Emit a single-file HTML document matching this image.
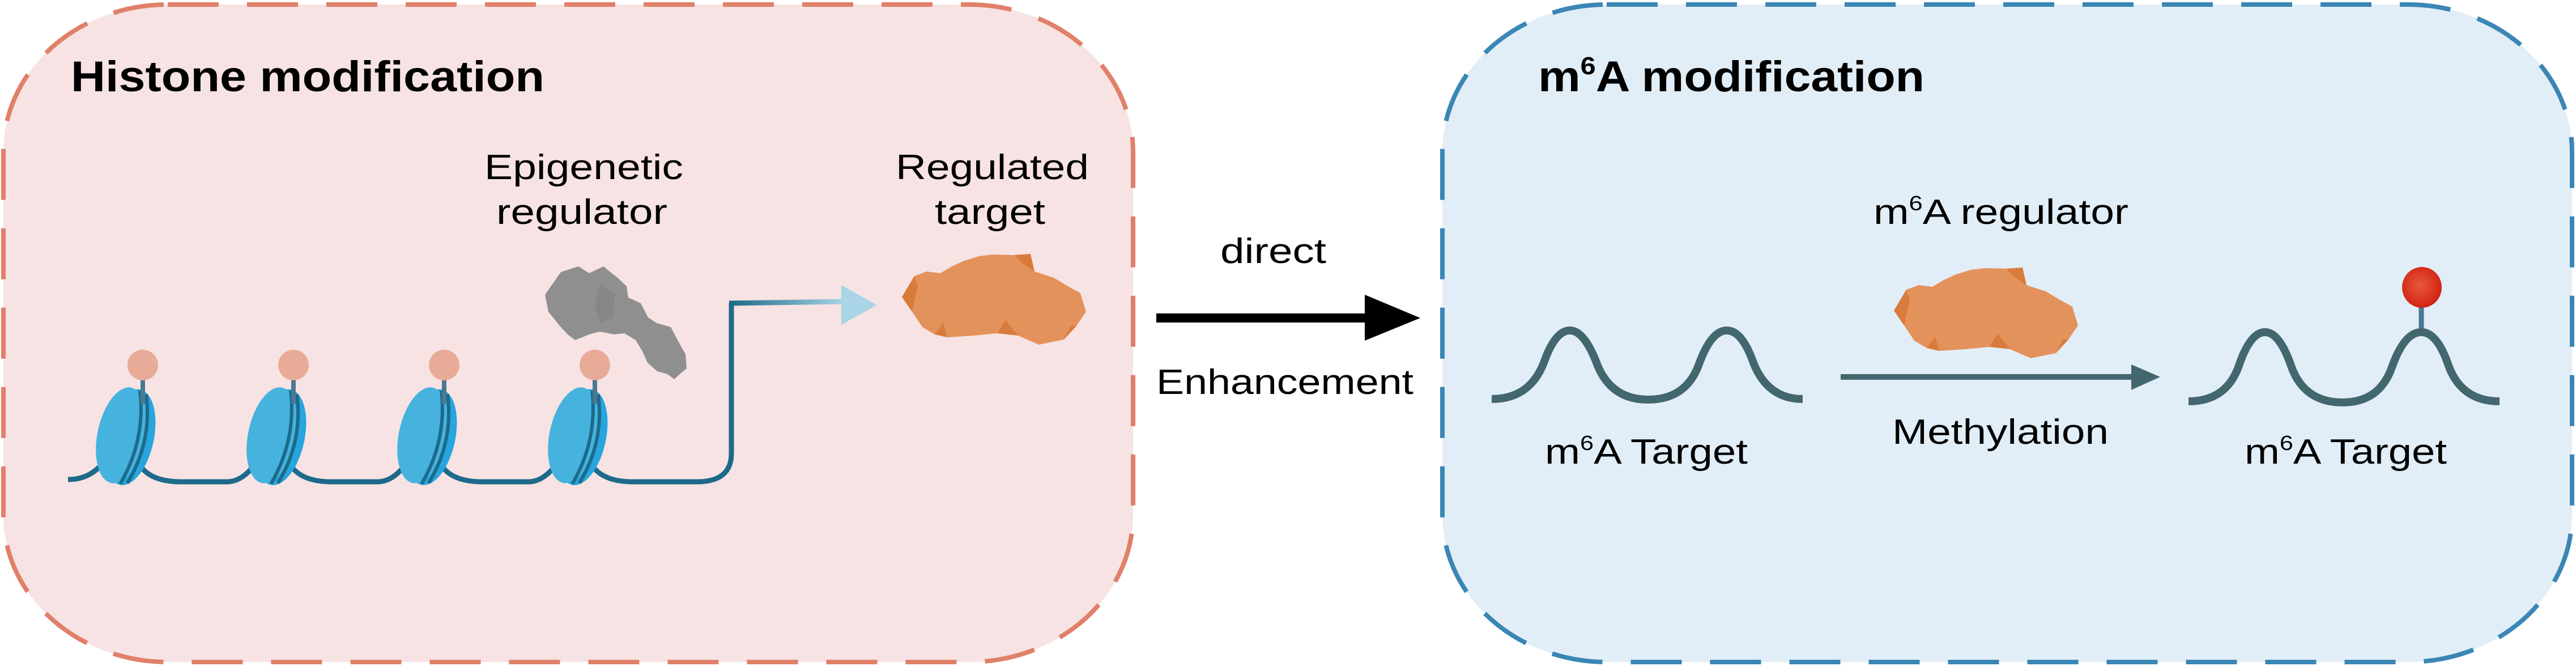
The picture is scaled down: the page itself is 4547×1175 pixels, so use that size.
<!DOCTYPE html>
<html><head><meta charset="utf-8"><style>html,body{margin:0;padding:0;background:#fff}svg{display:block}</style></head>
<body>
<svg width="4547" height="1175" viewBox="0 0 4547 1175" xmlns="http://www.w3.org/2000/svg" font-family="Liberation Sans, sans-serif">
<defs>
<linearGradient id="g1" x1="0" x2="1" y1="0" y2="0"><stop offset="0" stop-color="#1b6a8a"/><stop offset="1" stop-color="#a9d5e6"/></linearGradient>
<radialGradient id="rb" cx="0.45" cy="0.45" r="0.6"><stop offset="0" stop-color="#e8583e"/><stop offset="1" stop-color="#d01f10"/></radialGradient>
<g id="ob">
<path d="M1614 487 L1636 479 L1660 482 L1680 470 L1702 460 L1728 452 L1753 449 L1790 450 L1819 448 L1826 479 L1860 490 L1885 505 L1907 517 L1917 550 L1900 575 L1878 599 L1834 608 L1815 600 L1797 592 L1760 588 L1720 592 L1672 595 L1650 590 L1628 577 L1610 550 L1592 524 Z" fill="#e3925b"/>
<path d="M1592 524 L1614 487 L1620 505 L1610 550 Z M1790 450 L1819 448 L1826 479 L1805 465 Z M1760 588 L1775 565 L1797 592 Z M1650 590 L1665 570 L1672 595 Z M1878 599 L1890 575 L1900 575 Z" fill="#d97b3c"/>
</g>
</defs>
<rect x="6" y="8" width="1994" height="1160" rx="290" ry="260" fill="#f7e3e3" stroke="#e08069" stroke-width="8" stroke-dasharray="90 50"/>
<rect x="2546" y="8" width="1994" height="1160" rx="290" ry="260" fill="#e2eef7" stroke="#3a86b5" stroke-width="8" stroke-dasharray="90 50"/>

<text x="125" y="161" font-size="76" font-weight="bold" textLength="836" lengthAdjust="spacingAndGlyphs">Histone modification</text>
<text x="855" y="316" font-size="62" textLength="351" lengthAdjust="spacingAndGlyphs">Epigenetic</text>
<text x="876" y="395" font-size="62" textLength="302" lengthAdjust="spacingAndGlyphs">regulator</text>
<text x="1581" y="316" font-size="62" textLength="341" lengthAdjust="spacingAndGlyphs">Regulated</text>
<text x="1650" y="395" font-size="62" textLength="195" lengthAdjust="spacingAndGlyphs">target</text>

<!-- DNA -->
<path d="M120 846 Q165 846 190 805 M250 825 Q270 850 320 850 L400 850 Q431 850 456 810 M516 825 Q536 850 586 850 L666 850 Q697 850 722 810 M782 825 Q802 850 852 850 L932 850 Q963 850 988 810 M1048 825 Q1068 850 1118 850 L1230 850 Q1291 850 1291 800 L1291 535" fill="none" stroke="#1d6a8a" stroke-width="9"/>
<path d="M1287 535 L1492 532" stroke="url(#g1)" stroke-width="9" fill="none"/>
<polygon points="1485,503 1548,538 1485,573" fill="#a9d5e6"/>

<!-- nucleosomes -->
<g id="n">
<g transform="translate(214 768) rotate(12)">
<ellipse cx="16" cy="0" rx="42" ry="86" fill="#27a5de"/>
<ellipse cx="0" cy="0" rx="42" ry="86" fill="#46b2de"/>
<path d="M16 -84 Q44 0 16 84 M28 -80 Q56 0 28 80" fill="none" stroke="#1d6a8a" stroke-width="6"/>
</g>
<line x1="252" y1="665" x2="252" y2="712" stroke="#4a7891" stroke-width="8"/>
<ellipse cx="252" cy="644" rx="27" ry="27" fill="#e8ab98"/>
</g>
<use href="#n" x="266"/><use href="#n" x="532"/><use href="#n" x="798"/>

<!-- gray blob -->
<path d="M990 480 L1021 470 L1040 482 L1065 470 L1090 490 L1106 505 L1109 525 L1131 535 L1144 560 L1159 570 L1184 577 L1196 600 L1210 625 L1212 650 L1200 660 L1190 669 L1178 660 L1160 655 L1143 640 L1134 620 L1122 600 L1102 588 L1084 590 L1059 585 L1040 590 L1028 595 L1015 600 L1002 590 L988 575 L968 550 L962 520 Z" fill="#8f8f8f"/>
<path d="M1060 500 L1085 520 L1082 560 L1060 570 L1050 540 Z" fill="#868686"/>

<use href="#ob"/>

<!-- middle arrow -->
<text x="2154" y="464" font-size="62" textLength="187" lengthAdjust="spacingAndGlyphs">direct</text>
<rect x="2041" y="553" width="375" height="16" fill="#000"/>
<polygon points="2409,520 2507,561 2409,601" fill="#000"/>
<text x="2041" y="695" font-size="62" textLength="454" lengthAdjust="spacingAndGlyphs">Enhancement</text>

<!-- right -->
<text x="2715" y="161" font-size="76" font-weight="bold" textLength="682" lengthAdjust="spacingAndGlyphs">m<tspan font-size="44" dy="-30">6</tspan><tspan dy="30">A modification</tspan></text>
<text x="3307" y="395" font-size="62" textLength="450" lengthAdjust="spacingAndGlyphs">m<tspan font-size="36" dy="-24">6</tspan><tspan dy="24">A regulator</tspan></text>

<use href="#ob" transform="translate(1751 24)"/>

<path d="M2633 704 Q2700 704 2725 640 Q2745 583 2771 583 Q2797 583 2820 645 Q2845 705 2909 705 Q2975 705 2998 645 Q3020 583 3048 583 Q3075 583 3095 640 Q3120 704 3182 704" fill="none" stroke="#43676f" stroke-width="14"/>
<text x="2727" y="818" font-size="62" textLength="358" lengthAdjust="spacingAndGlyphs">m<tspan font-size="36" dy="-24">6</tspan><tspan dy="24">A Target</tspan></text>

<rect x="3249" y="660" width="520" height="10" fill="#43676f"/>
<polygon points="3762,643 3813,665 3762,688" fill="#43676f"/>
<text x="3340" y="783" font-size="62" textLength="382" lengthAdjust="spacingAndGlyphs">Methylation</text>

<line x1="4274" y1="530" x2="4274" y2="590" stroke="#4a7891" stroke-width="9"/>
<path d="M3863 708 Q3930 708 3952 645 Q3972 586 3998 586 Q4024 586 4045 648 Q4068 710 4135 710 Q4200 710 4222 648 Q4244 586 4274 586 Q4302 586 4322 645 Q4345 708 4412 708" fill="none" stroke="#43676f" stroke-width="14"/>
<ellipse cx="4275" cy="507" rx="35" ry="36" fill="url(#rb)"/>
<text x="3962" y="818" font-size="62" textLength="357" lengthAdjust="spacingAndGlyphs">m<tspan font-size="36" dy="-24">6</tspan><tspan dy="24">A Target</tspan></text>
</svg>
</body></html>
